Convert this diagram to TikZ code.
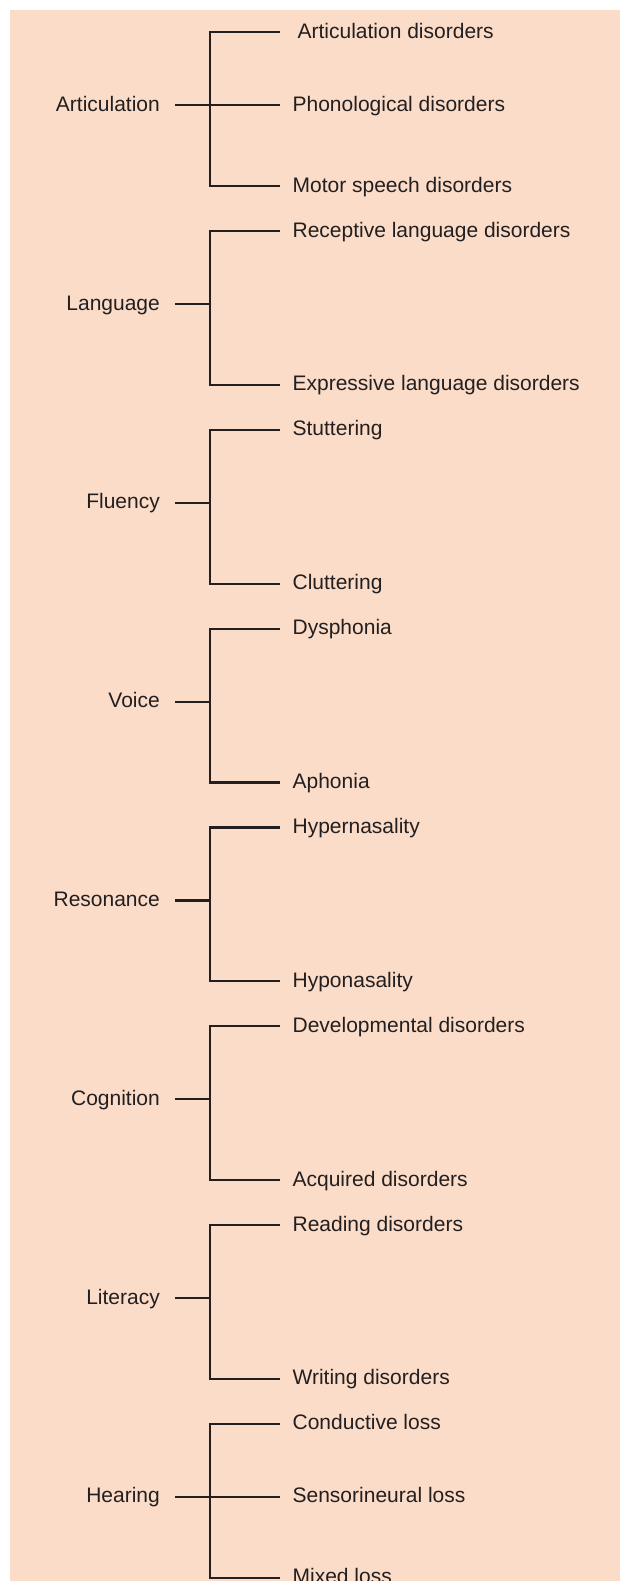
\documentclass[tikz,border=0pt]{standalone}
\usepackage{fontspec}
\setmainfont{Liberation Sans}

\definecolor{peach}{RGB}{251,220,200}
\definecolor{ink}{RGB}{35,31,32}

\tikzset{every picture/.style={line width=1.75pt}}
\tikzset{
  area/.style={font=\fontsize{15.75}{18}\selectfont, text=ink, inner ysep=0pt, text height=12pt, text depth=3pt},
  group/.style={area, anchor=east, inner xsep=10.5pt},
  item/.style={area, anchor=west, inner xsep=8.6pt},
  tree/.style={draw=ink, line width=1.75pt}
}

\begin{document}
\begin{tikzpicture}[x=0.75pt,y=0.75pt,yscale=-1,xscale=1]
\useasboundingbox (0,0) rectangle (620,1581);

%Shape: Rectangle [id:background]
\fill [peach] (10,10) rectangle (620,1581);

% Articulation
\node [group] (art) at (175,105.3) {Articulation};
\coordinate (artJ) at (210,105.3);
\node [item] (artA) at (280,32.3) {\hspace*{3.75pt}Articulation disorders};
\node [item] (artB) at (280,105.3) {Phonological disorders};
\node [item] (artC) at (280,186.1) {Motor speech disorders};
\draw [tree] (artA.west) -| (artJ) |- (artC.west);
\draw [tree] (art.east) -- (artB.west);

% Language
\node [group] (lang) at (175,304.1) {Language};
\coordinate (langJ) at (210,304.1);
\node [item] (langA) at (280,231.1) {Receptive language disorders};
\node [item] (langB) at (280,384.9) {Expressive language disorders};
\draw [tree] (langA.west) -| (langJ) |- (langB.west);
\draw [tree] (lang.east) -- (langJ);

% Fluency
\node [group] (flu) at (175,502.9) {Fluency};
\coordinate (fluJ) at (210,502.9);
\node [item] (fluA) at (280,429.9) {Stuttering};
\node [item] (fluB) at (280,583.7) {Cluttering};
\draw [tree] (fluA.west) -| (fluJ) |- (fluB.west);
\draw [tree] (flu.east) -- (fluJ);

% Voice
\node [group] (voi) at (175,701.7) {Voice};
\coordinate (voiJ) at (210,701.7);
\node [item] (voiA) at (280,628.7) {Dysphonia};
\node [item] (voiB) at (280,782.5) {Aphonia};
\draw [tree] (voiA.west) -| (voiJ) |- (voiB.west);
\draw [tree] (voi.east) -- (voiJ);

% Resonance
\node [group] (res) at (175,900.5) {Resonance};
\coordinate (resJ) at (210,900.5);
\node [item] (resA) at (280,827.5) {Hypernasality};
\node [item] (resB) at (280,981.3) {Hyponasality};
\draw [tree] (resA.west) -| (resJ) |- (resB.west);
\draw [tree] (res.east) -- (resJ);

% Cognition
\node [group] (cog) at (175,1099.3) {Cognition};
\coordinate (cogJ) at (210,1099.3);
\node [item] (cogA) at (280,1026.3) {Developmental disorders};
\node [item] (cogB) at (280,1180.1) {Acquired disorders};
\draw [tree] (cogA.west) -| (cogJ) |- (cogB.west);
\draw [tree] (cog.east) -- (cogJ);

% Literacy
\node [group] (lit) at (175,1298.1) {Literacy};
\coordinate (litJ) at (210,1298.1);
\node [item] (litA) at (280,1225.1) {Reading disorders};
\node [item] (litB) at (280,1378.9) {Writing disorders};
\draw [tree] (litA.west) -| (litJ) |- (litB.west);
\draw [tree] (lit.east) -- (litJ);

% Hearing
\node [group] (hear) at (175,1496.9) {Hearing};
\coordinate (hearJ) at (210,1496.9);
\node [item] (hearA) at (280,1423.9) {Conductive loss};
\node [item] (hearB) at (280,1496.9) {Sensorineural loss};
\node [item] (hearC) at (280,1577.7) {Mixed loss};
\draw [tree] (hearA.west) -| (hearJ) |- (hearC.west);
\draw [tree] (hear.east) -- (hearB.west);

\end{tikzpicture}
\end{document}
